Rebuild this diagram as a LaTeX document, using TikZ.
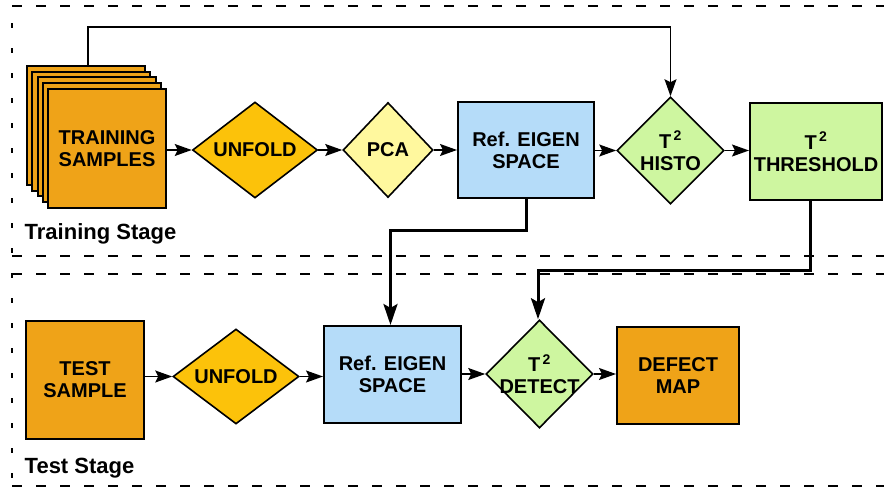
\documentclass[tikz,border=0pt]{standalone}
\usepackage{fontspec}
\setmainfont{Liberation Sans}
\usetikzlibrary{shapes.geometric,arrows.meta,calc}

\definecolor{sampleorange}{RGB}{239,163,24}
\definecolor{unfoldgold}{RGB}{252,194,10}
\definecolor{pcayellow}{RGB}{255,248,158}
\definecolor{eigenblue}{RGB}{181,220,249}
\definecolor{tgreen}{RGB}{206,246,160}

\tikzset{every picture/.style={line width=0.75pt}}
\tikzset{
  boxtxt/.style={font=\bfseries\fontsize{20}{22}\selectfont, align=center, text=black},
  blockbox/.style={draw, line width=2pt, rectangle, inner sep=0pt, boxtxt},
  decision/.style={draw, line width=1.6pt, diamond, inner sep=0pt},
  flow/.style={line width=1.5pt, -{Stealth[length=17pt,width=12pt,inset=3pt]}},
  bigflow/.style={line width=3pt, -{Stealth[length=21pt,width=14pt,inset=4pt]}},
  stageline/.style={line width=2pt, dash pattern=on 10pt off 14pt},
  stageside/.style={line width=2pt, dash pattern=on 5pt off 20pt},
  stagetxt/.style={font=\bfseries\fontsize{22}{26}\selectfont, anchor=base west},
}

\begin{document}
\begin{tikzpicture}[x=1pt,y=1pt,yscale=-1,xscale=1]
	\useasboundingbox (0,0) rectangle (884,488);

	% stage frames
	\draw[stageline] (12,6) -- (884,6);
	\draw[stageline] (12,256) -- (884,256);
	\draw[stageline] (12,274) -- (884,274);
	\draw[stageline] (12,486) -- (884,486);
	\draw[stageside] (12,23) -- (12,488);

	% stack of training samples
	\foreach \i in {0,...,3}
		\draw[line width=2pt, fill=sampleorange] (27+5.25*\i,66+5.5*\i) rectangle ++(118,119);
	\coordinate (tap) at (88,66);

	% Training stage
	\node[blockbox, fill=sampleorange, minimum width=118, minimum height=119] (train) at (107,148.5) {TRAINING\\SAMPLES};
	\node[decision, fill=unfoldgold, minimum width=125, minimum height=96, label={[boxtxt]center:UNFOLD}] (unfoldA) at (255,150) {};
	\node[decision, fill=pcayellow, minimum width=90, minimum height=95, label={[boxtxt]center:PCA}] (pca) at (388,150) {};
	\node[blockbox, fill=eigenblue, minimum width=136, minimum height=96] (eigenA) at (526,150) {Ref. EIGEN\\SPACE};
	\node[decision, fill=tgreen, minimum width=107, minimum height=107, label={[boxtxt]center:{T\textsuperscript{\,2}\\HISTO}}] (histo) at (670.5,150.5) {};
	\node[blockbox, fill=tgreen, minimum width=132, minimum height=97] (thresh) at (816,151.5) {T\textsuperscript{\,2}\\THRESHOLD};
	\node[stagetxt] (trainlbl) at (21,239) {Training Stage};

	% Test stage
	\node[blockbox, fill=sampleorange, minimum width=118, minimum height=118] (test) at (85,380) {TEST\\SAMPLE};
	\node[decision, fill=unfoldgold, minimum width=126, minimum height=95, label={[boxtxt]center:UNFOLD}] (unfoldB) at (236,376.5) {};
	\node[blockbox, fill=eigenblue, minimum width=137, minimum height=97] (eigenB) at (392.5,374.5) {Ref. EIGEN\\SPACE};
	\node[decision, fill=tgreen, minimum width=107, minimum height=108, label={[boxtxt]center:{T\textsuperscript{\,2}\\DETECT}}] (detect) at (539.5,374) {};
	\node[blockbox, fill=sampleorange, minimum width=122, minimum height=97] (defect) at (678,375.5) {DEFECT\\MAP};
	\node[stagetxt] (testlbl) at (21,473) {Test Stage};

	% connectors
	\draw[flow] (train.east |- unfoldA.west) -- (unfoldA.west);
	\draw[flow] (unfoldA.east) -- (pca.west);
	\draw[flow] (pca.east) -- (eigenA.west |- pca.east);
	\draw[flow] (eigenA.east |- histo.west) -- (histo.west);
	\draw[flow] (histo.east) -- (thresh.west |- histo.east);
	\draw[flow] (tap) -- ++(0,-39) -| (histo.north);

	\draw[flow] (test.east |- unfoldB.west) -- (unfoldB.west);
	\draw[flow] (unfoldB.east) -- (eigenB.west |- unfoldB.east);
	\draw[flow] (eigenB.east |- detect.west) -- (detect.west);
	\draw[flow] (detect.east) -- (defect.west |- detect.east);

	\draw[bigflow] (eigenA.south) -- ++(0,31) -| ([xshift=-2pt]eigenB.north);
	\draw[bigflow] ([xshift=-6pt]thresh.south) -- ++(0,69) -| ([xshift=-1.5pt]detect.north);

\end{tikzpicture}
\end{document}
